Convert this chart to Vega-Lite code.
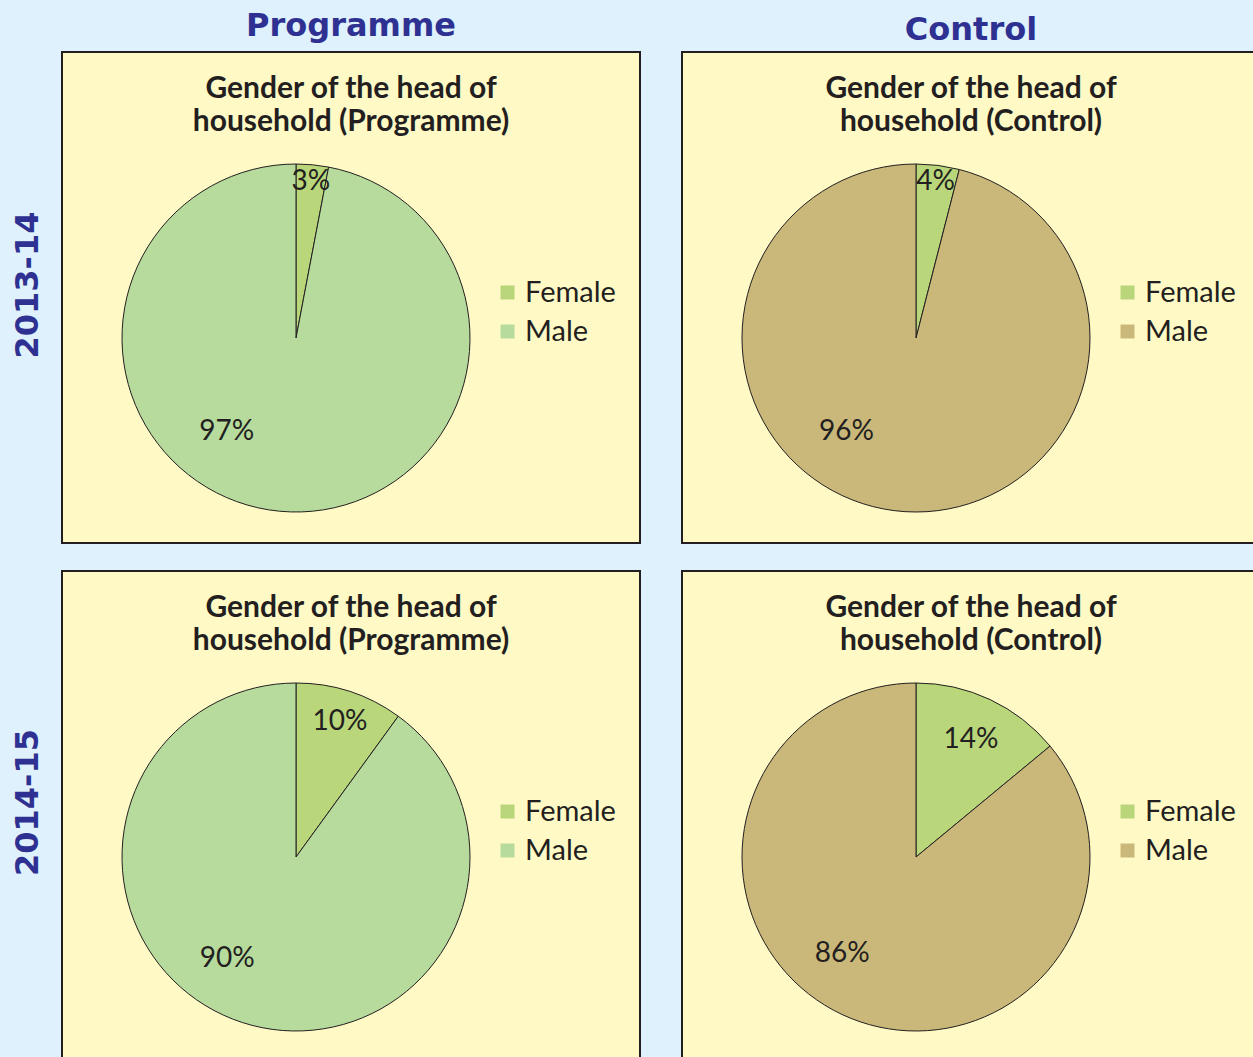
{
  "$schema": "https://vega.github.io/schema/vega-lite/v6.json",
  "background": "#dff1fc",
  "padding": {"left": 11, "top": 10, "right": 0, "bottom": 0},
  "config": {
    "view": {"fill": "#fff9c5", "stroke": "#231f20", "strokeWidth": 2},
    "font": "Lato",
    "legend": {
      "orient": "none", "legendX": 431, "legendY": 226, "title": null,
      "symbolType": "square", "symbolSize": 196, "symbolStrokeWidth": 0,
      "labelFontSize": 29, "labelFont": "Lato", "labelColor": "#231f20",
      "labelOffset": 3, "rowPadding": 9
    },
    "title": {"font": "Lato", "fontSize": 30, "fontWeight": "bold", "color": "#231f20", "anchor": "middle"}
  },
  "datasets": {
    "heads": [
      {"year": "2013-14", "group": "Programme", "gender": "Female", "value": 3, "label": "3%"},
      {"year": "2013-14", "group": "Programme", "gender": "Male", "value": 97, "label": "97%"},
      {"year": "2013-14", "group": "Control", "gender": "Female", "value": 4, "label": "4%"},
      {"year": "2013-14", "group": "Control", "gender": "Male", "value": 96, "label": "96%"},
      {"year": "2014-15", "group": "Programme", "gender": "Female", "value": 10, "label": "10%"},
      {"year": "2014-15", "group": "Programme", "gender": "Male", "value": 90, "label": "90%"},
      {"year": "2014-15", "group": "Control", "gender": "Female", "value": 14, "label": "14%"},
      {"year": "2014-15", "group": "Control", "gender": "Male", "value": 86, "label": "86%"}
    ]
  },
  "spacing": 26,
  "resolve": {"scale": {"color": "independent", "theta": "independent"}, "legend": {"color": "independent"}},
  "vconcat": [
    {
      "title": {"text": "2013-14", "orient": "left", "font": "DejaVu Sans", "fontSize": 32, "fontWeight": "bold", "color": "#2e3192", "baseline": "alphabetic", "offset": -9, "dx": -8},
      "spacing": 40,
      "resolve": {"scale": {"color": "independent", "theta": "independent"}, "legend": {"color": "independent"}},
      "hconcat": [
        {
          "title": {"text": "Programme", "font": "DejaVu Sans", "fontSize": 32, "fontWeight": "bold", "color": "#2e3192", "baseline": "alphabetic", "offset": -17},
          "resolve": {"scale": {"color": "independent", "theta": "independent"}, "legend": {"color": "independent"}},
          "vconcat": [
            {
              "width": 578, "height": 491,
              "view": {"fill": "#fff9c5", "stroke": "#231f20", "strokeWidth": 2},
              "title": {"text": ["Gender of the head of", "household (Programme)"], "offset": -85, "lineHeight": 33},
              "data": {"name": "heads"},
              "transform": [{"filter": "datum.year === '2013-14' && datum.group === 'Programme'"}],
              "layer": [
                {
                  "mark": {"type": "arc", "radius": 174, "x": 234, "y": 286, "stroke": "#231f20", "strokeWidth": 1},
                  "encoding": {
                    "theta": {"field": "value", "type": "quantitative", "stack": true},
                    "color": {"field": "gender", "type": "nominal", "scale": {"domain": ["Female", "Male"], "range": ["#b9d77a", "#b6db9d"]}}
                  }
                },
                {
                  "mark": {"type": "text", "radius": 157, "x": 234, "y": 286, "fontSize": 28, "color": "#231f20"},
                  "encoding": {
                    "theta": {"field": "value", "type": "quantitative", "stack": true},
                    "detail": {"field": "gender", "type": "nominal"},
                    "text": {"condition": {"test": "datum.gender === 'Female'", "field": "label"}, "value": ""}
                  }
                },
                {
                  "mark": {"type": "text", "radius": 117, "thetaOffset": 0.54, "x": 234, "y": 286, "fontSize": 28, "color": "#231f20"},
                  "encoding": {
                    "theta": {"field": "value", "type": "quantitative", "stack": true},
                    "detail": {"field": "gender", "type": "nominal"},
                    "text": {"condition": {"test": "datum.gender === 'Male'", "field": "label"}, "value": ""}
                  }
                }
              ]
            }
          ]
        },
        {
          "title": {"text": "Control", "font": "DejaVu Sans", "fontSize": 32, "fontWeight": "bold", "color": "#2e3192", "baseline": "alphabetic", "offset": -21},
          "resolve": {"scale": {"color": "independent", "theta": "independent"}, "legend": {"color": "independent"}},
          "vconcat": [
            {
              "width": 578, "height": 491,
              "view": {"fill": "#fff9c5", "stroke": "#231f20", "strokeWidth": 2},
              "title": {"text": ["Gender of the head of", "household (Control)"], "offset": -85, "lineHeight": 33},
              "data": {"name": "heads"},
              "transform": [{"filter": "datum.year === '2013-14' && datum.group === 'Control'"}],
              "layer": [
                {
                  "mark": {"type": "arc", "radius": 174, "x": 234, "y": 286, "stroke": "#231f20", "strokeWidth": 1},
                  "encoding": {
                    "theta": {"field": "value", "type": "quantitative", "stack": true},
                    "color": {"field": "gender", "type": "nominal", "scale": {"domain": ["Female", "Male"], "range": ["#b9d77a", "#cab87a"]}}
                  }
                },
                {
                  "mark": {"type": "text", "radius": 157, "x": 234, "y": 286, "fontSize": 28, "color": "#231f20"},
                  "encoding": {
                    "theta": {"field": "value", "type": "quantitative", "stack": true},
                    "detail": {"field": "gender", "type": "nominal"},
                    "text": {"condition": {"test": "datum.gender === 'Female'", "field": "label"}, "value": ""}
                  }
                },
                {
                  "mark": {"type": "text", "radius": 117, "thetaOffset": 0.51, "x": 234, "y": 286, "fontSize": 28, "color": "#231f20"},
                  "encoding": {
                    "theta": {"field": "value", "type": "quantitative", "stack": true},
                    "detail": {"field": "gender", "type": "nominal"},
                    "text": {"condition": {"test": "datum.gender === 'Male'", "field": "label"}, "value": ""}
                  }
                }
              ]
            }
          ]
        }
      ]
    },
    {
      "title": {"text": "2014-15", "orient": "left", "font": "DejaVu Sans", "fontSize": 32, "fontWeight": "bold", "color": "#2e3192", "baseline": "alphabetic", "offset": -9, "dx": 14},
      "spacing": 40,
      "resolve": {"scale": {"color": "independent", "theta": "independent"}, "legend": {"color": "independent"}},
      "hconcat": [
        {
          "width": 578, "height": 491,
          "view": {"fill": "#fff9c5", "stroke": "#231f20", "strokeWidth": 2},
          "title": {"text": ["Gender of the head of", "household (Programme)"], "offset": -85, "lineHeight": 33},
          "data": {"name": "heads"},
          "transform": [{"filter": "datum.year === '2014-15' && datum.group === 'Programme'"}],
          "layer": [
            {
              "mark": {"type": "arc", "radius": 174, "x": 234, "y": 286, "stroke": "#231f20", "strokeWidth": 1},
              "encoding": {
                "theta": {"field": "value", "type": "quantitative", "stack": true},
                "color": {"field": "gender", "type": "nominal", "scale": {"domain": ["Female", "Male"], "range": ["#b9d77a", "#b6db9d"]}}
              }
            },
            {
              "mark": {"type": "text", "radius": 142, "x": 234, "y": 286, "fontSize": 28, "color": "#231f20"},
              "encoding": {
                "theta": {"field": "value", "type": "quantitative", "stack": true},
                "detail": {"field": "gender", "type": "nominal"},
                "text": {"condition": {"test": "datum.gender === 'Female'", "field": "label"}, "value": ""}
              }
            },
            {
              "mark": {"type": "text", "radius": 123, "thetaOffset": 0.28, "x": 234, "y": 286, "fontSize": 28, "color": "#231f20"},
              "encoding": {
                "theta": {"field": "value", "type": "quantitative", "stack": true},
                "detail": {"field": "gender", "type": "nominal"},
                "text": {"condition": {"test": "datum.gender === 'Male'", "field": "label"}, "value": ""}
              }
            }
          ]
        },
        {
          "width": 578, "height": 491,
          "view": {"fill": "#fff9c5", "stroke": "#231f20", "strokeWidth": 2},
          "title": {"text": ["Gender of the head of", "household (Control)"], "offset": -85, "lineHeight": 33},
          "data": {"name": "heads"},
          "transform": [{"filter": "datum.year === '2014-15' && datum.group === 'Control'"}],
          "layer": [
            {
              "mark": {"type": "arc", "radius": 174, "x": 234, "y": 286, "stroke": "#231f20", "strokeWidth": 1},
              "encoding": {
                "theta": {"field": "value", "type": "quantitative", "stack": true},
                "color": {"field": "gender", "type": "nominal", "scale": {"domain": ["Female", "Male"], "range": ["#b9d77a", "#cab87a"]}}
              }
            },
            {
              "mark": {"type": "text", "radius": 129, "x": 234, "y": 286, "fontSize": 28, "color": "#231f20"},
              "encoding": {
                "theta": {"field": "value", "type": "quantitative", "stack": true},
                "detail": {"field": "gender", "type": "nominal"},
                "text": {"condition": {"test": "datum.gender === 'Female'", "field": "label"}, "value": ""}
              }
            },
            {
              "mark": {"type": "text", "radius": 122, "thetaOffset": 0.21, "x": 234, "y": 286, "fontSize": 28, "color": "#231f20"},
              "encoding": {
                "theta": {"field": "value", "type": "quantitative", "stack": true},
                "detail": {"field": "gender", "type": "nominal"},
                "text": {"condition": {"test": "datum.gender === 'Male'", "field": "label"}, "value": ""}
              }
            }
          ]
        }
      ]
    }
  ]
}
